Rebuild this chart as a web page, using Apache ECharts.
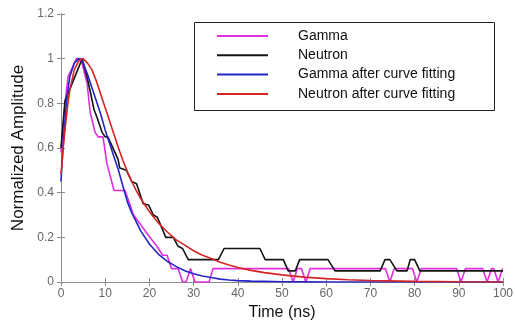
<!DOCTYPE html>
<html>
<head>
<meta charset="utf-8">
<script src="https://cdn.jsdelivr.net/npm/echarts@6/dist/echarts.min.js"></script>
<style>
  html, body { margin: 0; padding: 0; background: #fff; }
  #chart { width: 515px; height: 323px; }
</style>
</head>
<body>
<div id="chart"></div>
<script>
// raw pulses (time in ns, normalized amplitude)
const gammaTimes = [0, 0.9, 1.6, 3.5, 4.5, 5.9, 6.6, 7.7, 8.4, 9.5, 10.4, 12, 14.5, 16.4, 17.9, 20.1, 21.7, 23, 24, 25, 26.5, 27.5, 28.3, 29.3, 30.3, 33.5, 34.4, 51.5, 52.5, 53.5, 54.4, 55.4, 56.4, 73.4, 74.4, 75.4, 79.5, 80.5, 81.5, 89.5, 90.5, 91.5, 95.4, 96.4, 97.4, 97.9, 98.9, 99.9, 100];
const gammaValues = [0.58, 0.8, 0.92, 1.0, 1.0, 0.89, 0.76, 0.67, 0.65, 0.65, 0.53, 0.41, 0.41, 0.3, 0.26, 0.2, 0.16, 0.12, 0.12, 0.06, 0.06, 0, 0, 0.06, 0, 0, 0.06, 0.06, 0, 0.06, 0.06, 0, 0.06, 0.06, 0, 0.06, 0.06, 0, 0.06, 0.06, 0, 0.06, 0.06, 0, 0.06, 0.06, 0, 0.06, 0.06];

const neutronTimes = [0, 0.9, 4.8, 6.1, 7.5, 8.1, 9.3, 10, 10.6, 12.9, 13.3, 14.8, 16, 17.1, 18.6, 19.8, 20.9, 21.8, 23.7, 25.4, 26.5, 27.5, 28.8, 35.6, 36.9, 45, 46.2, 50.3, 51.4, 53, 54, 60.4, 62, 72.2, 73.3, 74.4, 76, 78.3, 79, 80, 81.2, 100];
const neutronValues = [0.6, 0.81, 1.0, 0.9, 0.77, 0.74, 0.67, 0.65, 0.65, 0.55, 0.51, 0.5, 0.45, 0.44, 0.35, 0.345, 0.3, 0.29, 0.2, 0.2, 0.16, 0.15, 0.1, 0.1, 0.15, 0.15, 0.1, 0.1, 0.05, 0.05, 0.1, 0.1, 0.05, 0.05, 0.1, 0.1, 0.05, 0.05, 0.1, 0.1, 0.05, 0.05];

// fitted curves, sampled on a common time grid
const fitTimes = [0, 0.5, 1, 1.5, 2, 3, 4, 5, 6, 7, 8, 9, 10, 11, 12, 13, 14, 15, 16, 17, 18, 19, 20, 22, 24, 26, 28, 30, 32, 34, 36, 38, 40, 43, 46, 50, 55, 60, 65, 70, 80, 90, 100];
const gammaFit = [0.45, 0.62, 0.75, 0.85, 0.92, 0.98, 1.0, 0.98, 0.93, 0.87, 0.81, 0.75, 0.68, 0.62, 0.56, 0.5, 0.43, 0.36, 0.31, 0.27, 0.23, 0.2, 0.17, 0.125, 0.093, 0.07, 0.05, 0.037, 0.027, 0.02, 0.013, 0.009, 0.006, 0.004, 0.003, 0.001, 0.0005, 0, 0, 0, 0, 0, 0];
const neutronFit = [0.48, 0.6, 0.7, 0.79, 0.86, 0.95, 0.99, 1.0, 0.98, 0.95, 0.9, 0.84, 0.78, 0.72, 0.66, 0.6, 0.545, 0.495, 0.45, 0.41, 0.375, 0.345, 0.315, 0.265, 0.225, 0.19, 0.165, 0.14, 0.12, 0.105, 0.088, 0.076, 0.065, 0.052, 0.042, 0.032, 0.022, 0.015, 0.01, 0.007, 0.003, 0.001, 0];

const xTicks = [0, 10, 20, 30, 40, 50, 60, 70, 80, 90, 100];
const yTicks = [0, 0.2, 0.4, 0.6, 0.8, 1, 1.2];

const zip = (xs, ys) => xs.map((x, i) => [x, ys[i]]);

const chart = echarts.init(document.getElementById("chart"));

const frameColor = "#8c8c8c";
const labelColor = "#666";

const mkLine = (name, xs, ys, color) => ({
  name: name,
  type: "line",
  data: zip(xs, ys),
  symbol: "none",
  smooth: false,
  lineStyle: { color: color, width: 1.6 },
  itemStyle: { color: color },
  animation: false,
});

const option = {
  animation: false,
  title: {
    text: "Modified Pulses",
    left: 228,
    top: -17,
    textStyle: { fontFamily: "Liberation Sans", fontSize: 15, fontWeight: "normal", color: "#333" },
  },
  grid: { left: 61, right: 12, top: 14, bottom: 41, containLabel: false, outerBoundsMode: "none" },
  legend: {
    orient: "vertical",
    left: 194,
    top: 22,
    padding: [7, 10, 10, 23],
    icon: "rect",
    itemWidth: 51,
    itemHeight: 2,
    itemGap: 5.3,
    textStyle: { fontFamily: "Liberation Sans", fontSize: 14, lineHeight: 14, color: "#111", padding: [0, 0, 0, 25] },
    data: ["Gamma", "Neutron", "Gamma after curve fitting", "Neutron after curve fitting"],
  },
  graphic: [
    {
      type: "rect",
      shape: { x: 194.5, y: 22.5, width: 300, height: 88 },
      style: { fill: "#fff", stroke: "#222", lineWidth: 1 },
      z: 3,
    },
  ],
  xAxis: [
    {
      type: "value",
      min: xTicks[0],
      max: xTicks[xTicks.length - 1],
      interval: 10,
      name: "Time (ns)",
      nameLocation: "middle",
      nameGap: 22,
      nameTextStyle: { fontFamily: "Liberation Sans", fontSize: 16, color: "#111" },
      axisLine: { lineStyle: { color: frameColor } },
      axisTick: { inside: true, length: 4, lineStyle: { color: frameColor } },
      axisLabel: { margin: 6, color: labelColor, fontFamily: "Liberation Sans", fontSize: 12 },
      splitLine: { show: false },
    },
    {
      type: "value",
      position: "top",
      min: xTicks[0],
      max: xTicks[xTicks.length - 1],
      interval: 10,
      axisLine: { show: true, lineStyle: { color: frameColor } },
      axisTick: { inside: true, length: 4, lineStyle: { color: frameColor } },
      axisLabel: { show: false },
      splitLine: { show: false },
    },
  ],
  yAxis: [
    {
      type: "value",
      min: yTicks[0],
      max: yTicks[yTicks.length - 1],
      interval: 0.2,
      name: "Normalized Amplitude",
      nameLocation: "middle",
      nameGap: 30,
      nameTextStyle: { fontFamily: "Liberation Sans", fontSize: 17, color: "#111" },
      axisLine: { show: true, lineStyle: { color: frameColor } },
      axisTick: { show: true, inside: true, length: 4, lineStyle: { color: frameColor } },
      axisLabel: { margin: 7, color: labelColor, fontFamily: "Liberation Sans", fontSize: 12 },
      splitLine: { show: false },
    },
    {
      type: "value",
      position: "right",
      min: yTicks[0],
      max: yTicks[yTicks.length - 1],
      interval: 0.2,
      axisLine: { show: true, lineStyle: { color: frameColor } },
      axisTick: { show: true, inside: true, length: 4, lineStyle: { color: frameColor } },
      axisLabel: { show: false },
      splitLine: { show: false },
    },
  ],
  series: [
    mkLine("Gamma", gammaTimes, gammaValues, "#e02ee0"),
    mkLine("Neutron", neutronTimes, neutronValues, "#141414"),
    mkLine("Gamma after curve fitting", fitTimes, gammaFit, "#2424c8"),
    mkLine("Neutron after curve fitting", fitTimes, neutronFit, "#d42424"),
  ],
};

chart.setOption(option);
</script>
</body>
</html>
